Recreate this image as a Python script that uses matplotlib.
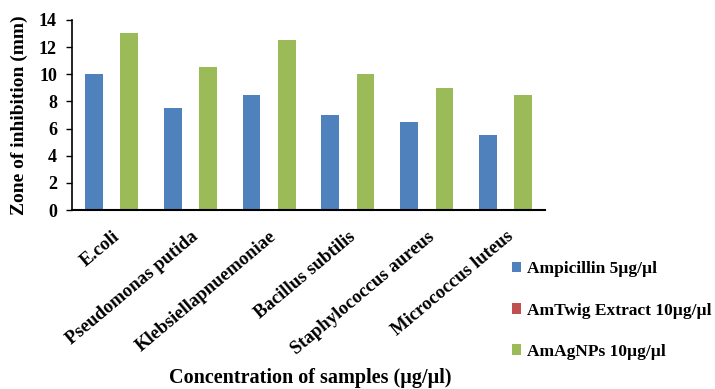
import matplotlib.pyplot as plt
import numpy as np

plt.rcParams['font.family'] = ['Liberation Serif', 'DejaVu Serif']
plt.rcParams['font.weight'] = 'bold'

# zone of inhibition data (mm)
bacteria = ['E.coli', 'Pseudomonas putida', 'Klebsiellapnuemoniae',
            'Bacillus subtilis', 'Staphylococcus aureus', 'Micrococcus luteus']
ampicillin = [10, 7.5, 8.5, 7, 6.5, 5.5]
twig_extract = [0, 0, 0, 0, 0, 0]
agnps = [13, 10.5, 12.5, 10, 9, 8.5]
series_names = ['Ampicillin 5µg/µl', 'AmTwig Extract 10µg/µl', 'AmAgNPs 10µg/µl']
colors = ['#4F81BD', '#C0504D', '#9BBB59']

fig = plt.figure(figsize=(7.15, 3.89), dpi=100)
ax = fig.add_axes([0.101, 0.46, 0.661, 0.489])

x = np.arange(len(bacteria))
w = 0.225
for k, vals in enumerate([ampicillin, twig_extract, agnps]):
    ax.bar(x + (k - 1) * w, vals, w, color=colors[k], label=series_names[k])

ax.set_xlim(-0.5, len(bacteria) - 0.5)
ax.set_ylim(0, 14)
ax.set_yticks(range(0, 15, 2))
ax.tick_params(axis='y', labelsize=13, length=4, width=1, direction='out', pad=7)
ax.tick_params(axis='x', length=0, pad=13)
ax.set_xticks(x)
ax.set_xticklabels(bacteria, rotation=40, ha='right', rotation_mode='anchor', fontsize=13.5)

for s in ['top', 'right']:
    ax.spines[s].set_visible(False)
ax.spines['left'].set_linewidth(1.2)
ax.spines['bottom'].set_linewidth(1.5)

ax.set_ylabel('Zone of inhibition (mm)', fontsize=14, fontweight='bold', labelpad=8)
fig.text(0.434, 0.028, 'Concentration of samples (µg/µl)', ha='center', va='center',
         fontsize=14.5, fontweight='bold')

fig.legend(loc='upper left', bbox_to_anchor=(0.716, 0.328), frameon=False,
           handlelength=0.55, handleheight=0.55, handletextpad=0.3,
           labelspacing=1.45, fontsize=12.5, borderaxespad=0, borderpad=0)

plt.savefig('out.png', dpi=100)
